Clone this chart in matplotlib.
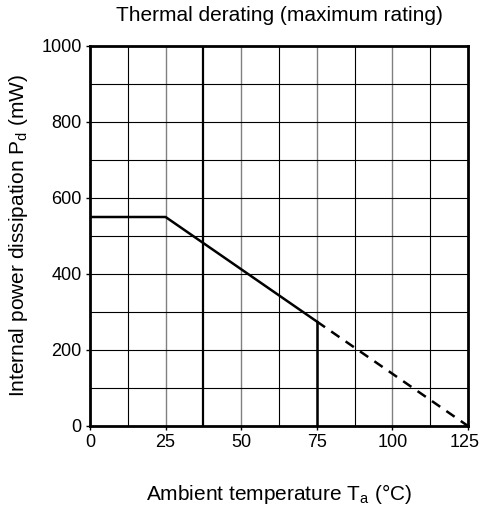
import matplotlib.pyplot as plt
import matplotlib.transforms as mtransforms
import numpy as np

plt.rcParams['font.family'] = ['Liberation Sans', 'DejaVu Sans']
plt.rcParams['mathtext.fontset'] = 'custom'
plt.rcParams['mathtext.rm'] = 'Liberation Sans'

# data
temp_solid = [0, 25, 75]
pd_solid = [550, 550, 275]
temp_dash = [75, 125]
pd_dash = [275, 0]
temp_limit = [75, 75]
pd_limit = [0, 275]

x_ticks = [0, 25, 50, 75, 100, 125]
y_ticks = [0, 200, 400, 600, 800, 1000]

fig = plt.figure(figsize=(4.81, 5.09), dpi=100)
ax = fig.add_axes([90 / 481, 1 - 426 / 509, 378 / 481, 380 / 509])

# grid: thin black minor lines, gray at labelled x positions
for xv in np.arange(12.5, 125, 12.5):
    if xv in x_ticks:
        ax.axvline(xv, color='#808080', lw=1.0, zorder=1)
    elif xv == 37.5:
        ax.axvline(xv, color='black', lw=1.6, zorder=1)
    else:
        ax.axvline(xv, color='black', lw=0.8, zorder=1)
for yv in range(100, 1000, 100):
    ax.axhline(yv, color='black', lw=0.8, zorder=1)

ax.plot(temp_solid, pd_solid, color='black', lw=1.8, zorder=3)
ax.plot(temp_limit, pd_limit, color='black', lw=1.8, zorder=3)
ax.plot(temp_dash, pd_dash, color='black', lw=1.8, ls=(0, (4, 3)), zorder=3)

ax.set_xlim(0, 125)
ax.set_ylim(0, 1000)
ax.set_xticks(x_ticks)
ax.set_yticks(y_ticks)
ax.tick_params(labelsize=13, length=3, width=1, pad=3, color='black')
for s in ax.spines.values():
    s.set_linewidth(2)
    s.set_zorder(4)

# nudge the last x label left so it stays inside the figure
last = ax.get_xticklabels()[-1]
last.set_transform(last.get_transform() + mtransforms.ScaledTranslation(-3 / 100, 0, fig.dpi_scale_trans))

ax.set_title('Thermal derating (maximum rating)', fontsize=15, pad=18)
ax.set_xlabel('Ambient temperature T$_\\mathrm{a}$ (°C)', fontsize=15, labelpad=22)
ax.set_ylabel('Internal power dissipation P$_\\mathrm{d}$ (mW)', fontsize=15, labelpad=8)

fig.savefig('out.png', dpi=100)
